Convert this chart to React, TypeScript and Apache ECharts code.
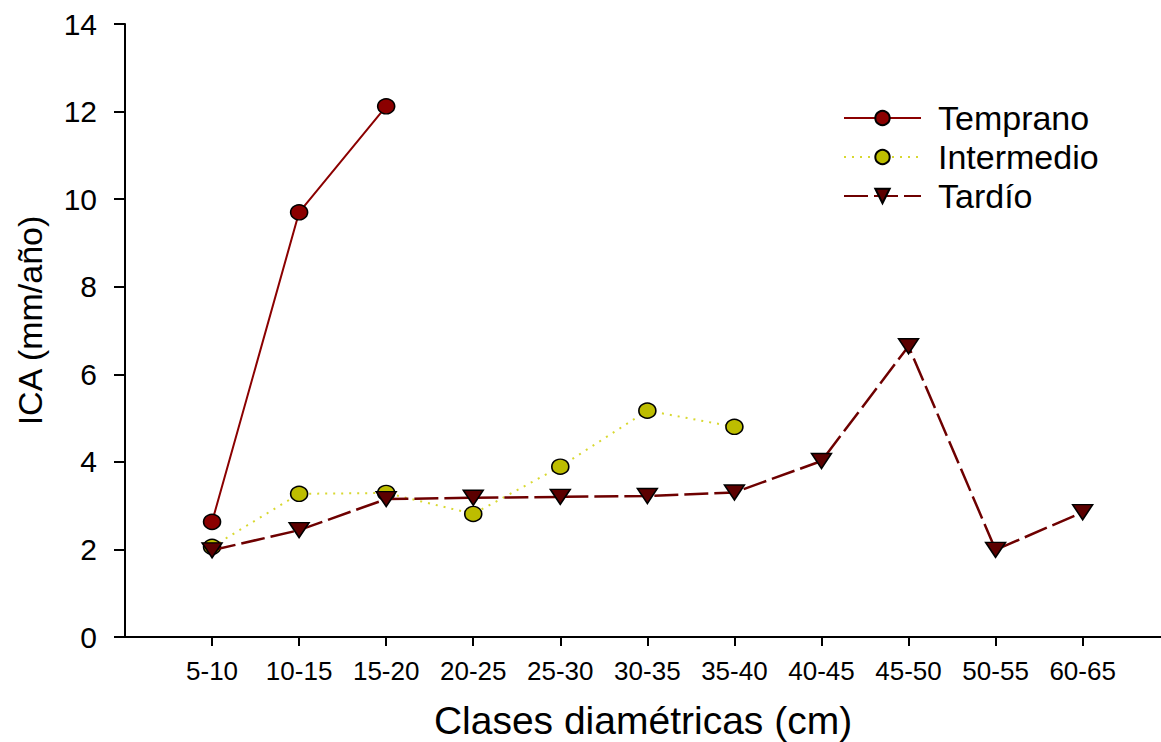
import React, { useEffect, useRef } from "react";
import * as echarts from "echarts";

const categories = ["5-10", "10-15", "15-20", "20-25", "25-30", "30-35", "35-40", "40-45", "45-50", "50-55", "60-65"];
const temprano = [2.63, 9.7, 12.12];
const intermedio = [2.06, 3.27, 3.29, 2.81, 3.89, 5.17, 4.8];
const tardio = [1.98, 2.44, 3.15, 3.18, 3.2, 3.22, 3.3, 4.02, 6.64, 1.99, 2.85];
const yTicks = [0, 2, 4, 6, 8, 10, 12, 14];

const toPoints = (vals: number[]) => vals.map((v, i) => [i + 1, v]);
const FONT = "'Liberation Sans', Arial, sans-serif";

export default function App() {
  const ref = useRef<HTMLDivElement>(null);
  useEffect(() => {
    if (!ref.current) return;
    const chart = echarts.init(ref.current, undefined, { renderer: "svg" });
    const catPositions = categories.map((_, i) => i + 1);
    chart.setOption({
      animation: false,
      backgroundColor: "#ffffff",
      grid: { left: 125, top: 24, right: 0, bottom: 105, containLabel: false, outerBoundsMode: "none" },
      legend: {
        left: 838,
        top: 96,
        orient: "vertical",
        itemWidth: 77,
        itemHeight: 18,
        itemGap: 5,
        data: ["Temprano", "Intermedio", "Tardío"],
        textStyle: { fontFamily: FONT, fontSize: 34, color: "#000", lineHeight: 33, padding: [0, 0, 0, 12] },
      },
      xAxis: {
        type: "value",
        min: 0,
        max: 11.9,
        interval: 1,
        splitLine: { show: false },
        axisLine: { show: true, lineStyle: { color: "#000", width: 2 } },
        axisTick: { show: true, length: 9, lineStyle: { color: "#000", width: 2 }, customValues: catPositions },
        axisLabel: {
          customValues: catPositions,
          margin: 21,
          fontFamily: FONT,
          fontSize: 26,
          color: "#000",
          formatter: (v: number) => categories[Math.round(v) - 1] ?? "",
        },
        name: "Clases diamétricas (cm)",
        nameLocation: "middle",
        nameGap: 64,
        nameTextStyle: { fontFamily: FONT, fontSize: 39, color: "#000" },
      },
      yAxis: {
        type: "value",
        min: 0,
        max: 14,
        interval: 2,
        splitLine: { show: false },
        axisLine: { show: true, lineStyle: { color: "#000", width: 2 } },
        axisTick: { show: true, length: 11, lineStyle: { color: "#000", width: 2 }, customValues: yTicks },
        axisLabel: { margin: 28, fontFamily: FONT, fontSize: 30, color: "#000" },
        name: "ICA (mm/año)",
        nameLocation: "middle",
        nameGap: 78,
        nameTextStyle: { fontFamily: FONT, fontSize: 34, color: "#000", padding: [0, 0, 0, 20] },
      },
      graphic: [
        { type: "line", shape: { x1: 114, y1: 637, x2: 126, y2: 637 }, style: { stroke: "#000", lineWidth: 2 } },
      ],
      series: [
        {
          name: "Temprano",
          type: "line",
          data: toPoints(temprano),
          symbol: "circle",
          symbolSize: [17, 15],
          lineStyle: { color: "#8B0000", width: 2 },
          itemStyle: { color: "#8B0000", borderColor: "#000", borderWidth: 1.5 },
          z: 2,
        },
        {
          name: "Intermedio",
          type: "line",
          data: toPoints(intermedio),
          symbol: "circle",
          symbolSize: [17, 15],
          lineStyle: { color: "#D8D830", width: 2, type: [2, 6] },
          itemStyle: { color: "#BDBD00", borderColor: "#000", borderWidth: 1.5 },
          z: 3,
        },
        {
          name: "Tardío",
          type: "line",
          data: toPoints(tardio),
          symbol: "triangle",
          symbolRotate: 180,
          symbolSize: [20, 15],
          lineStyle: { color: "#6E0000", width: 2.5, type: [24, 6] },
          itemStyle: { color: "#5C0000", borderColor: "#000", borderWidth: 1.5 },
          z: 4,
        },
      ],
    });
    return () => chart.dispose();
  }, []);
  return <div ref={ref} style={{ width: 1161, height: 742, position: "fixed", left: 0, top: 0 }} />;
}
